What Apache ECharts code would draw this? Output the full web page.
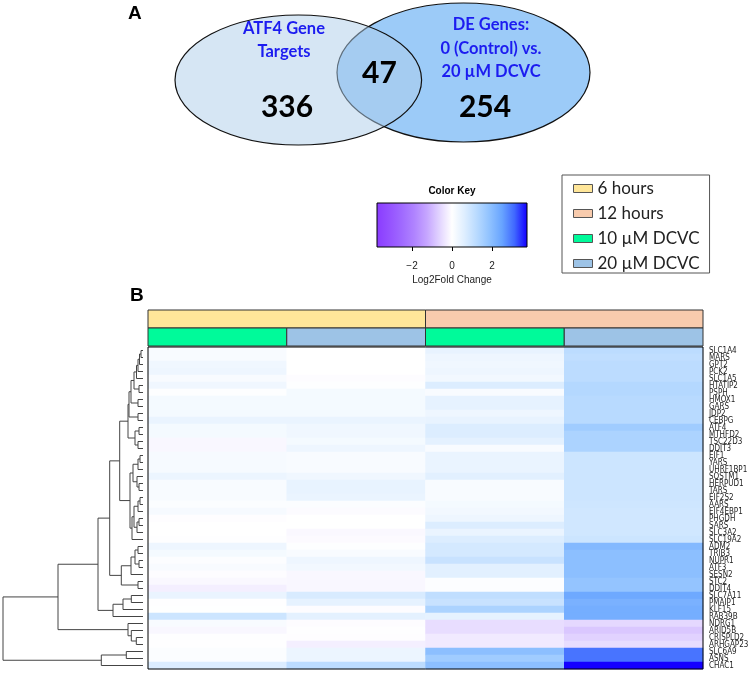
<!DOCTYPE html>
<html><head><meta charset="utf-8">
<script src="https://cdn.jsdelivr.net/npm/echarts@6/dist/echarts.min.js"></script>
<style>html,body{margin:0;padding:0;background:#fff}#c{width:752px;height:673px}</style>
</head><body><div id="c"></div>
<script>
// ---------------- data ----------------
const genes = ['SLC1A4','MARS','GPT2','PCK2','SLC1A5','HTATIP2','PSPH','HMOX1','GARS','JDP2','CEBPG','ATF4','MTHFD2','TSC22D3','DDIT3','EIF1','YARS','UHRF1BP1','SQSTM1','HERPUD1','TARS','EIF2S2','AARS','EIF4EBP1','PHGDH','SARS','SLC3A2','SLC19A2','ADM2','TRIB3','NUPR1','ATF3','SESN2','STC2','DDIT4','SLC7A11','PMAIP1','KLF15','RAB39B','NDRG1','ARID5B','CRISPLD2','ARHGAP23','SLC6A9','ASNS','CHAC1'];
const columns = ['6h 10 µM','6h 20 µM','12h 10 µM','12h 20 µM'];
const columnTime = ['6 hours','6 hours','12 hours','12 hours'];
const columnDose = ['10 µM DCVC','20 µM DCVC','10 µM DCVC','20 µM DCVC'];
const lfc6h10 = [0.13,0.13,0.28,0.32,0.13,0.28,0.03,0.2,0.2,0.2,0.4,0.2,0.2,-0.12,-0.12,0.17,0.17,0.17,0.36,0.13,0.13,0.13,0.08,0.17,-0.03,0,0,0.02,0.32,0.2,0.06,0.13,-0.05,-0.1,-0.23,0.4,0.02,0.01,0.92,0.13,-0.12,-0.02,-0.02,0.08,0.08,0.66];
const lfc6h20 = [0,0,0,0,-0.05,0.04,0.2,0.2,0.2,0.2,0.4,0.28,0.28,0.2,0.32,0.13,0.13,0.13,0.28,0.43,0.43,0.4,0.08,-0.06,0,0,-0.1,-0.07,0.03,0.13,0.32,0.24,-0.12,-0.12,-0.12,0.72,0.47,-0.04,0.51,-0.04,-0.02,-0.03,-0.23,0.36,0.36,1.18];
const lfc12h10 = [0.43,0.32,0.28,0.32,0.24,0.66,0.13,0.47,0.47,0.32,0.43,0.66,0.66,0.51,0.13,0.4,0.4,0.4,0.55,0.13,0.13,0.13,0.2,0.24,0.32,0.66,0.4,0.66,0.79,0.79,0.99,0.55,0.55,0.06,0.06,1.12,0.99,1.44,0.47,-0.5,-0.5,-0.3,-0.3,1.94,1.62,1.94];
const lfc12h20 = [1.18,1.12,1.18,1.18,1.18,1.31,1.31,1.25,1.25,1.25,1.25,1.62,1.44,1.44,1.44,0.92,0.92,0.92,0.92,0.92,0.92,0.92,0.88,0.85,0.85,0.85,0.85,0.92,2.06,1.94,1.94,1.94,1.94,1.81,1.81,2.4,2.22,2.3,2.3,-0.57,-0.8,-0.65,-0.5,3.0,3.0,3.75];
// dendrogram: [height, left, right]; numbers are row indices
const dendrogram = [140,
  [85,
    [45,
      [33.3,
        [23.3,
          [15,
            [14,[12,[9,[6.5,[5,[3.5,[2,0,1],2],3],4],[4,5,6]],[5,7,8]],[5,9,10]],
            [8,[4,11,12],[5,13,14]]],
          [13,
            [10,[5,[3,15,16],17],[6,18,[4,19,20]]],
            [11,[9,[5,[3,21,22],23],[6,[4,24,25],26]],27]]],
        [21.7,[12,[8,[5,28,29],[4,30,31]],32],[5,33,34]]],
      [30,[20,[11.7,35,36],37],38]],
    [15,39,[11.7,40,[6.7,41,42]]]],
  [41.7,[16.7,43,44],45]];
const vennSetLabels = [['ATF4 Gene','Targets'],['DE Genes:','0 (Control) vs.','20 µM DCVC']];
const vennCounts = [336, 47, 254];
const keyRange = [-3.75, 3.75];
const keyTicks = [-2, 0, 2];
const groupColors = {'6 hours':'#ffe699','12 hours':'#f8cbad','10 µM DCVC':'#00fa9a','20 µM DCVC':'#9dc3e6'};

// ---------------- chart ----------------
const chart = echarts.init(document.getElementById('c'), null, {renderer:'canvas'});
const FONT_LABEL = "'Liberation Sans Narrow','DejaVu Sans Condensed','Liberation Sans',Arial,sans-serif";
const FONT_ARIAL = "'Liberation Sans',Arial,sans-serif";
const FONT_BODY = "Lato,'Open Sans',sans-serif";
const palette = ['#8a3cff','#9552ff','#a06aff','#b084ff','#c6a6ff','#e2d4ff','#ffffff','#deeeff','#b8daff','#90c2ff','#68a4ff','#4068ff','#1400ff'];

const heatData = [];
[lfc6h10, lfc6h20, lfc12h10, lfc12h20].forEach((col, ci) => col.forEach((v, ri) => heatData.push([ci, ri, v])));

function spans(arr){const out=[];let s=0;for(let i=1;i<=arr.length;i++){if(i===arr.length||arr[i]!==arr[s]){out.push({name:arr[s],start:s,end:i});s=i;}}return out;}
const annItems = {};
Object.keys(groupColors).forEach(k => annItems[k] = []);
spans(columnTime).forEach(s => annItems[s.name].push([s.start, s.end, 0]));
spans(columnDose).forEach(s => annItems[s.name].push([s.start, s.end, 1]));

// dendrogram segments
const dendroSegs = [];
function walk(node){
  if (typeof node === 'number') return {h:0, y:node};
  const a = walk(node[1]), b = walk(node[2]);
  dendroSegs.push([node[0], a.h, a.y, b.h, b.y]);
  return {h:node[0], y:(a.y+b.y)/2};
}
walk(dendrogram);

const series = [];
series.push({
  type:'heatmap', xAxisIndex:0, yAxisIndex:0, data:heatData,
  emphasis:{disabled:true}, progressive:0, animation:false
});
Object.keys(groupColors).forEach(name => {
  series.push({
    type:'custom', name, xAxisIndex:1, yAxisIndex:1, data:annItems[name],
    itemStyle:{color:groupColors[name]}, animation:false, silent:true,
    renderItem:(params, api) => {
      const p0 = api.coord([api.value(0), api.value(2)]);
      const p1 = api.coord([api.value(1), api.value(2)+1]);
      return {type:'rect', shape:{x:p0[0], y:p0[1], width:p1[0]-p0[0], height:p1[1]-p0[1]},
        style:{fill:groupColors[name], stroke:'#333', lineWidth:1}};
    }
  });
});
series.push({
  type:'custom', xAxisIndex:2, yAxisIndex:2, data:dendroSegs, animation:false, silent:true,
  renderItem:(params, api) => {
    const h = api.value(0);
    const a = api.coord([api.value(1), api.value(2)]);
    const b = api.coord([h, api.value(2)]);
    const c = api.coord([h, api.value(4)]);
    const d = api.coord([api.value(3), api.value(4)]);
    return {type:'polyline', shape:{points:[a,b,c,d]}, style:{stroke:'#444', lineWidth:1, fill:null}};
  }
});
series.push({
  type:'custom', xAxisIndex:3, yAxisIndex:3, data:[[keyRange[0], keyRange[1]]], animation:false, silent:true,
  renderItem:(params, api) => {
    const p0 = api.coord([api.value(0), 1]);
    const p1 = api.coord([api.value(1), 0]);
    const stops = palette.map((c,i)=>({offset:i/(palette.length-1), color:c}));
    return {type:'rect', shape:{x:p0[0], y:p0[1], width:p1[0]-p0[0], height:p1[1]-p0[1]},
      style:{fill:new echarts.graphic.LinearGradient(0,0,1,0,stops)}};
  }
});

const graphic = [
  {type:'ellipse', shape:{cx:463.5, cy:72.5, rx:126.5, ry:69.5}, style:{fill:'#9ccbf8', stroke:'#111', lineWidth:1.2}, z:1},
  {type:'ellipse', shape:{cx:298.3, cy:80, rx:123.3, ry:65}, style:{fill:'rgba(173,205,233,0.5)', stroke:'#111', lineWidth:1.2}, z:2},
  {type:'text', x:128, y:14, style:{text:'A', font:'bold 19px ' + FONT_ARIAL, fill:'#000', verticalAlign:'middle'}, z:3},
  {type:'text', x:130, y:296, style:{text:'B', font:'bold 19px ' + FONT_ARIAL, fill:'#000', verticalAlign:'middle'}, z:3},
  {type:'text', x:452, y:191, style:{text:'Color Key', font:'bold 10px ' + FONT_ARIAL, fill:'#000', align:'center', verticalAlign:'middle'}, z:3}
];
vennSetLabels[0].forEach((t,i)=>graphic.push({type:'text', x:284, y:28.5+23*i, z:3,
  style:{text:t, font:'bold 16.5px ' + FONT_BODY, fill:'#1c1cf0', align:'center', verticalAlign:'middle'}}));
vennSetLabels[1].forEach((t,i)=>graphic.push({type:'text', x:491, y:25+23.5*i, z:3,
  style:{text:t, font:'bold 16.5px ' + FONT_BODY, fill:'#1c1cf0', align:'center', verticalAlign:'middle'}}));
[[287,107.5],[379.5,73.5],[485,107.5]].forEach((p,i)=>graphic.push({type:'text', x:p[0], y:p[1], z:3,
  style:{text:String(vennCounts[i]), font:'bold 30px ' + FONT_BODY, fill:'#000', align:'center', verticalAlign:'middle'}}));

const option = {
  animation:false,
  backgroundColor:'#fff',
  grid:[
    {left:148, top:347, width:555, height:322, show:true, borderColor:'#000', borderWidth:1, backgroundColor:'transparent', z:5, outerBoundsMode:'none', containLabel:false},
    {left:148, top:310, width:555, height:36, outerBoundsMode:'none'},
    {left:3, top:347, width:140, height:322, outerBoundsMode:'none'},
    {left:377, top:203, width:150, height:44, show:true, borderColor:'#000', borderWidth:1, backgroundColor:'transparent', z:5, outerBoundsMode:'none'}
  ],
  xAxis:[
    {gridIndex:0, type:'category', data:columns, show:false},
    {gridIndex:1, type:'value', min:0, max:4, show:false},
    {gridIndex:2, type:'value', min:0, max:140, inverse:true, show:false},
    {gridIndex:3, type:'value', min:keyRange[0], max:keyRange[1], offset:2,
      axisLine:{show:false}, splitLine:{show:false},
      axisTick:{show:true, length:4, customValues:keyTicks, lineStyle:{color:'#000'}},
      axisLabel:{customValues:keyTicks, margin:12, fontSize:10, color:'#222', fontFamily:FONT_ARIAL,
        formatter:v=>String(v).replace('-', '\u2212')},
      name:'Log2Fold Change', nameLocation:'middle', nameGap:26,
      nameTextStyle:{fontSize:10, color:'#222', fontFamily:FONT_ARIAL}}
  ],
  yAxis:[
    {gridIndex:0, type:'category', data:genes, inverse:true, position:'right',
      axisLine:{show:false}, axisTick:{show:false}, splitLine:{show:false},
      axisLabel:{interval:0, fontSize:8, margin:6, color:'#222', fontFamily:FONT_LABEL}},
    {gridIndex:1, type:'value', min:0, max:2, inverse:true, show:false},
    {gridIndex:2, type:'value', min:-0.5, max:genes.length-0.5, inverse:true, show:false},
    {gridIndex:3, type:'value', min:0, max:1, show:false}
  ],
  visualMap:{type:'continuous', show:false, min:keyRange[0], max:keyRange[1], dimension:2, seriesIndex:0,
    inRange:{color:palette}},
  legend:{
    orient:'vertical', left:562, top:175,
    data:Object.keys(groupColors),
    icon:'rect', itemWidth:19, itemHeight:8, itemGap:8,
    padding:[5,10,1,11], borderColor:'#555', borderWidth:1, selectedMode:false,
    itemStyle:{borderColor:'#555', borderWidth:1},
    textStyle:{fontSize:17, fontFamily:FONT_BODY, color:'#222', lineHeight:16}
  },
  graphic,
  series
};
chart.setOption(option);
</script></body></html>
